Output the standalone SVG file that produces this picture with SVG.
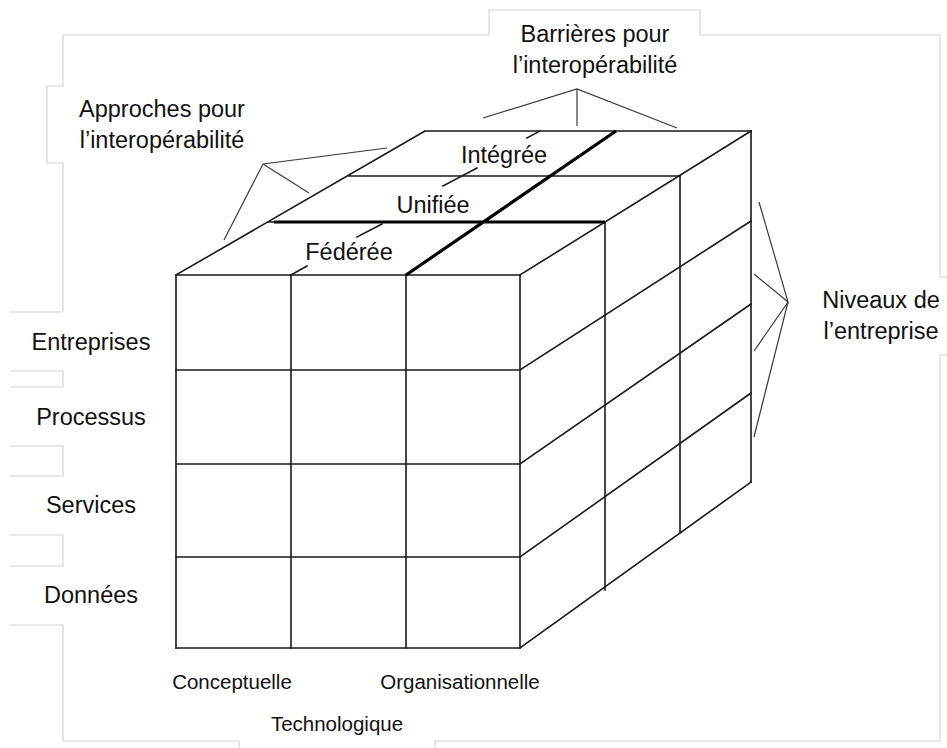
<svg xmlns="http://www.w3.org/2000/svg" width="947" height="748" viewBox="0 0 947 748">
<style>
.frame{fill:none;stroke:#d4d4d4;stroke-width:1.2}
.g{fill:none;stroke:#1a1a1a;stroke-width:1.6;stroke-linecap:square}
.thick{fill:none;stroke:#000;stroke-width:3.2}
.lead{fill:none;stroke:#3a3a3a;stroke-width:1.2}
.t{font-family:"Liberation Sans",Arial,sans-serif;font-size:23.5px;fill:#111;text-anchor:middle}
.s{font-family:"Liberation Sans",Arial,sans-serif;font-size:20.5px;fill:#111;text-anchor:middle}
</style>
<rect width="947" height="748" fill="#fff"/>
<g id="frame">
<path class="frame" d="M63,312 V163 H47 V86 H63 V35 H489 V10 H700 V35 H940 V277 H947"/>
<path class="frame" d="M947,355 H940 V741 H435 V748"/>
<path class="frame" d="M239,748 V741 H63 V625 H10"/>
<path class="frame" d="M10,312 H63"/>
<path class="frame" d="M10,371 H63 V387 H10"/>
<path class="frame" d="M10,446 H63 V476 H10"/>
<path class="frame" d="M10,535 H63 V566 H10"/>
</g>
<g id="cube">
<path class="g" d="M176,275 H520 M176,370 H520 M176,464 H520 M176,557 H520 M176,648 H520"/>
<path class="g" d="M176,275 V648 M291,275 V648 M406,275 V648 M520,275 V648"/>
<path class="g" d="M605,222 V590 M680,176 V533 M751,131 V482"/>
<path class="g" d="M520,275 L751,131 M520,370 L751,221 M520,464 L751,304 M520,557 L751,393 M520,648 L751,482"/>
<path class="g" d="M176,275 L425,131 M425,131 H751 M348,176 H680 M268,222 H276"/>
<path class="g" d="M291,275 L307,266 M357,237 L382,224 M443,186 L477,168 M527,138 L540,131"/>
<path class="thick" d="M274,222 H605 M406,275 L616,131"/>
</g>
<g id="connectors">
<path class="lead" d="M387,148 L263,164 L224,240 M263,164 L309,193"/>
<path class="lead" d="M483,118 L577,89 L677,128 M577,89 V126"/>
<path class="lead" d="M759,202 L788,302 L754,274 M788,302 L754,351 M788,302 L754,437"/>
</g>
<g id="approches"><text class="t" x="162" y="117">Approches pour</text><text class="t" x="162" y="148">l’interopérabilité</text></g>
<g id="barrieres"><text class="t" x="595" y="42">Barrières pour</text><text class="t" x="595" y="73">l’interopérabilité</text></g>
<g id="niveaux"><text class="t" x="881" y="308">Niveaux de</text><text class="t" x="881" y="339">l’entreprise</text></g>
<g id="integree"><text class="t" x="504" y="163">Intégrée</text></g>
<g id="unifiee"><text class="t" x="433" y="213">Unifiée</text></g>
<g id="federee"><text class="t" x="349" y="260">Fédérée</text></g>
<g id="entreprises"><text class="t" x="91" y="350">Entreprises</text></g>
<g id="processus"><text class="t" x="91" y="425">Processus</text></g>
<g id="services"><text class="t" x="91" y="513">Services</text></g>
<g id="donnees"><text class="t" x="91" y="603">Données</text></g>
<g id="conceptuelle"><text class="s" x="232" y="689">Conceptuelle</text></g>
<g id="organisationnelle"><text class="s" x="460" y="689">Organisationnelle</text></g>
<g id="technologique"><text class="s" x="337" y="731">Technologique</text></g>
</svg>
